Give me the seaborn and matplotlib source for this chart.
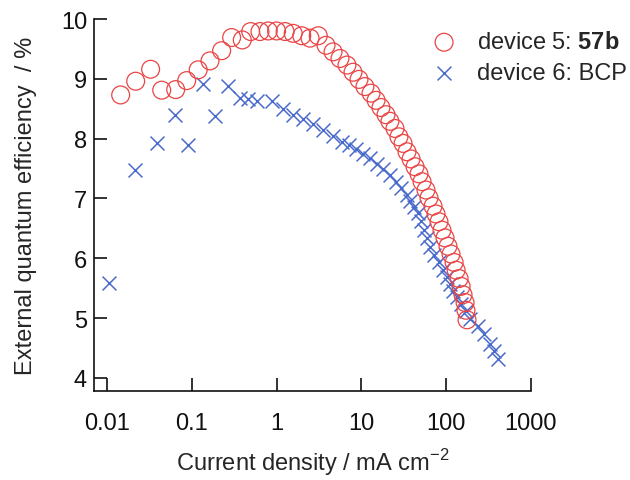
import numpy as np
import pandas as pd
import matplotlib
matplotlib.use("Agg")
import matplotlib.pyplot as plt
import seaborn as sns

# --- Data (EQE vs current density) ---
dev5_j = [0.0145, 0.0218, 0.0327, 0.0442, 0.0646, 0.0871, 0.119, 0.164, 0.225, 0.295,
          0.394, 0.495, 0.637, 0.798, 1.00, 1.26, 1.57, 1.98, 2.48, 3.10,
          3.83, 4.63, 5.59, 6.76, 7.96, 9.37, 11.0, 13.0, 14.9, 17.0,
          19.5, 21.7, 24.9, 27.7, 31.0, 34.5, 38.5, 42.9, 47.8, 51.9,
          57.8, 62.7, 69.9, 75.8, 82.2, 89.2, 96.8, 105, 114, 124,
          131, 142, 150, 158, 167, 171, 176]
dev5_eqe = [8.73, 8.96, 9.16, 8.81, 8.82, 8.97, 9.15, 9.30, 9.47, 9.69,
            9.65, 9.79, 9.79, 9.80, 9.80, 9.79, 9.76, 9.72, 9.68, 9.72,
            9.56, 9.45, 9.34, 9.23, 9.11, 8.99, 8.87, 8.76, 8.64, 8.52,
            8.40, 8.29, 8.17, 8.03, 7.92, 7.78, 7.66, 7.53, 7.41, 7.28,
            7.14, 7.01, 6.87, 6.74, 6.61, 6.47, 6.34, 6.20, 6.07, 5.93,
            5.80, 5.66, 5.53, 5.39, 5.26, 5.13, 4.97]

dev6_j = [0.0106, 0.0214, 0.0385, 0.0634, 0.091, 0.135, 0.188, 0.269, 0.370, 0.464,
          0.582, 0.875, 1.20, 1.56, 2.05, 2.69, 3.53, 4.63, 5.86, 7.10,
          8.61, 10.4, 12.6, 15.2, 18.1, 21.8, 25.3, 29.4, 34.2, 37.9,
          41.9, 46.5, 50.4, 54.7, 59.4, 64.4, 72.4, 81.6, 91.7, 101,
          111, 121, 133, 150, 169, 191, 237, 279, 328, 366, 408]
dev6_eqe = [5.58, 7.48, 7.93, 8.40, 7.89, 8.91, 8.37, 8.88, 8.68, 8.66,
            8.63, 8.63, 8.49, 8.40, 8.32, 8.24, 8.15, 8.04, 7.95, 7.89,
            7.82, 7.75, 7.68, 7.58, 7.49, 7.39, 7.28, 7.17, 7.06, 6.96,
            6.86, 6.76, 6.62, 6.47, 6.33, 6.19, 6.06, 5.93, 5.80, 5.69,
            5.57, 5.46, 5.35, 5.23, 5.11, 4.99, 4.86, 4.74, 4.57, 4.45, 4.32]

x_ticks = [0.01, 0.1, 1, 10, 100, 1000]
x_ticklabels = ["0.01", "0.1", "1", "10", "100", "1000"]
y_ticks = [4, 5, 6, 7, 8, 9, 10]

RED = "#ea4444"
BLUE = "#4a6acc"
FS = 17

sns.set_style("ticks")
plt.rcParams["font.family"] = ["Liberation Sans", "DejaVu Sans"]
plt.rcParams["mathtext.fontset"] = "custom"
plt.rcParams["mathtext.rm"] = "Liberation Sans"
plt.rcParams["mathtext.bf"] = "Liberation Sans:bold"

df5 = pd.DataFrame({"j": dev5_j, "eqe": dev5_eqe})
df6 = pd.DataFrame({"j": dev6_j, "eqe": dev6_eqe})

fig = plt.figure(figsize=(6.3, 4.81), dpi=100)
ax = fig.add_axes([94 / 630, 1 - 392 / 481, (531 - 94) / 630, (392 - 20) / 481])

sns.scatterplot(data=df5, x="j", y="eqe", ax=ax, marker="o", s=165,
                facecolors="none", edgecolor=RED, linewidth=0.9,
                label="device 5: $\\mathbf{57b}$", zorder=3)
sns.scatterplot(data=df6, x="j", y="eqe", ax=ax, marker="x", s=100,
                color=BLUE, linewidth=1.1,
                label="device 6: BCP", zorder=2)

ax.set_xscale("log")
ax.set_xlim(0.00703, 1000)
ax.set_ylim(3.78, 10)
ax.set_xticks(x_ticks)
ax.set_xticklabels(x_ticklabels)
ax.set_yticks(y_ticks)
ax.minorticks_off()

ax.tick_params(axis="both", direction="in", length=9.5, width=1.2,
               labelsize=FS, colors="#111111")
ax.tick_params(axis="x", pad=15)
ax.tick_params(axis="y", pad=5)
for side in ["top", "right"]:
    ax.spines[side].set_visible(False)
for side in ["left", "bottom"]:
    ax.spines[side].set_linewidth(1.2)
    ax.spines[side].set_color("#111111")

ax.set_xlabel("Current density / mA cm$^{-2}$", fontsize=FS, labelpad=9)
ax.set_ylabel("External quantum efficiency  / %", fontsize=FS, labelpad=17)

ax.legend(loc="upper left", bbox_to_anchor=(411 / 630, 1 - 23 / 481),
          bbox_transform=fig.transFigure, frameon=False, fontsize=FS,
          handletextpad=0.4, labelspacing=0.35, borderaxespad=0)

fig.savefig("out.png", dpi=100)
